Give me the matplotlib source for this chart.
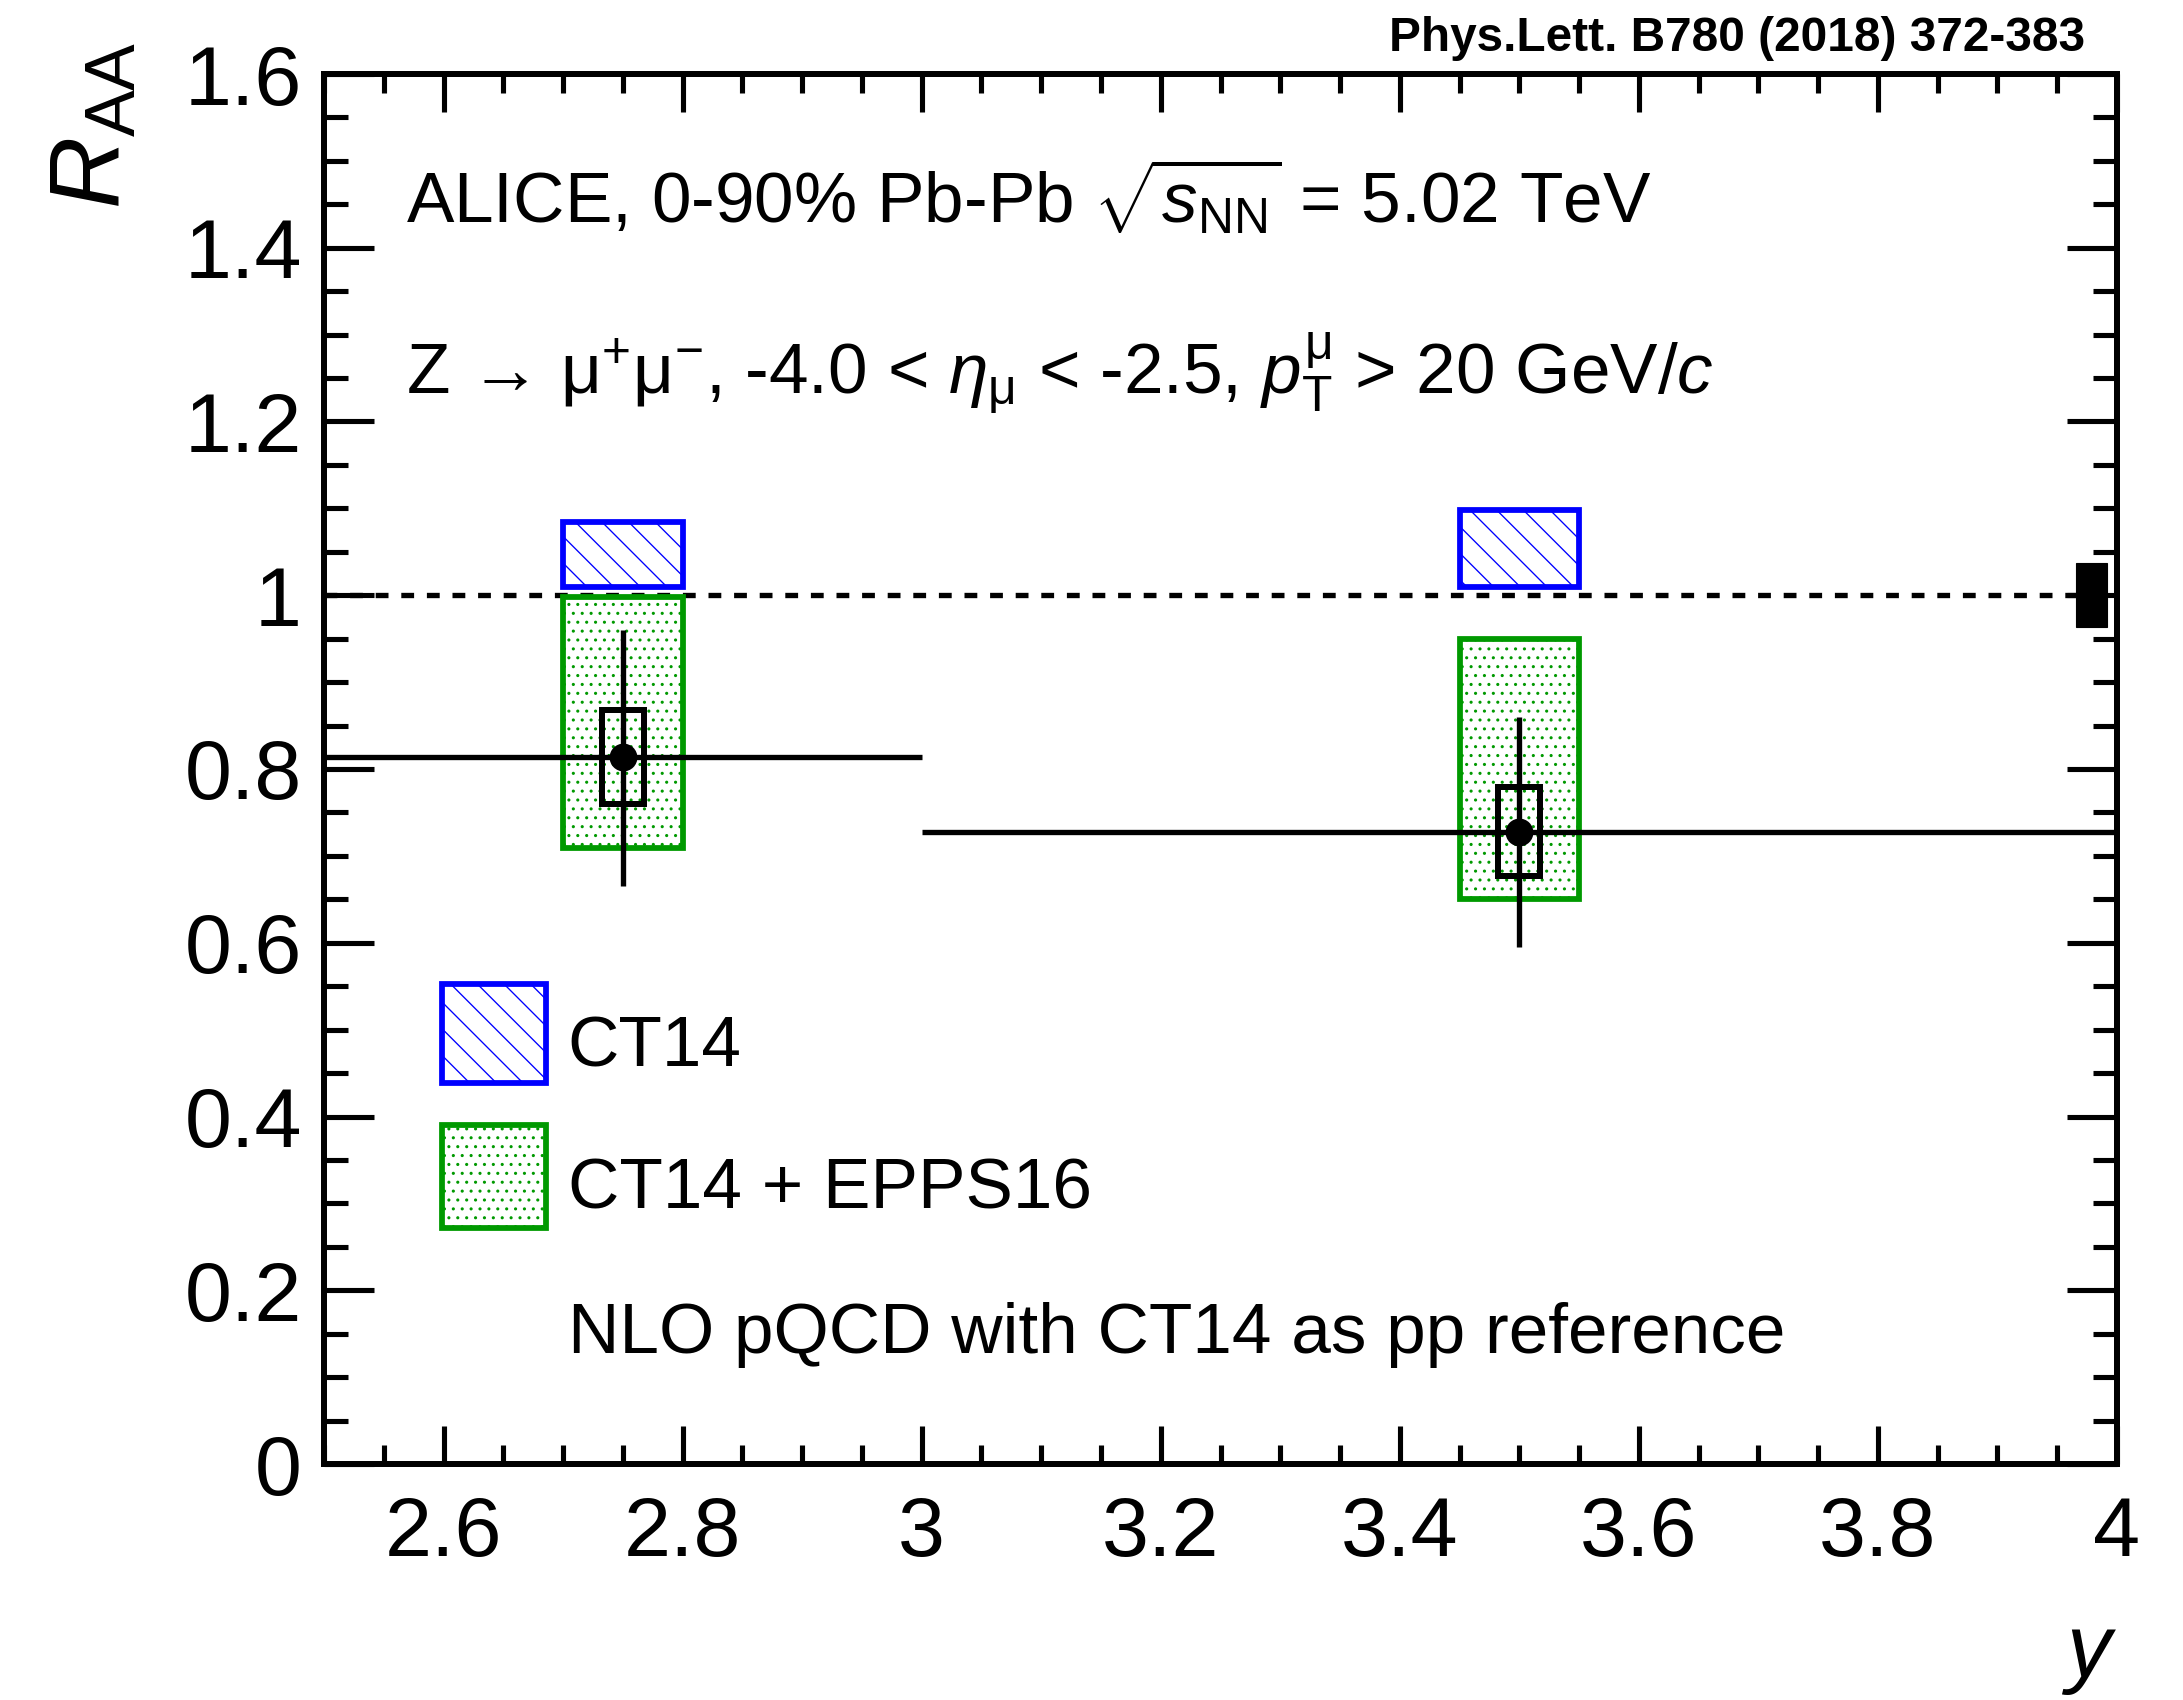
import numpy as np
import matplotlib
matplotlib.use("Agg")
import matplotlib.pyplot as plt
from matplotlib.patches import Rectangle
from matplotlib.ticker import MultipleLocator, FormatStrFormatter

# --- data ---
y_edges = [2.5, 3.0, 4.0]
y_centres = [2.75, 3.5]
raa = [0.814, 0.728]
stat_up = [0.146, 0.132]
stat_dn = [0.149, 0.133]
sys_err = [0.054, 0.051]
sys_halfwidth = 0.0175

# model bands (x range, y range)
ct14_x = [(2.70, 2.80), (3.45, 3.55)]
ct14_lo = [1.009, 1.010]
ct14_hi = [1.084, 1.098]
epps_x = [(2.70, 2.80), (3.45, 3.55)]
epps_lo = [0.709, 0.650]
epps_hi = [0.998, 0.950]

global_unc = 0.037
global_x = (3.966, 3.992)

BLUE = "#0000ff"
GREEN = "#009900"

plt.rcParams["font.family"] = ["Liberation Sans", "DejaVu Sans"]
plt.rcParams["mathtext.fontset"] = "custom"
plt.rcParams["mathtext.rm"] = "Liberation Sans"
plt.rcParams["mathtext.it"] = "Liberation Sans:italic"
plt.rcParams["mathtext.bf"] = "Liberation Sans:bold"
plt.rcParams["hatch.linewidth"] = 0.6

DPI = 160
fig = plt.figure(figsize=(2183 / DPI, 1700 / DPI), dpi=DPI)
ax = fig.add_axes([324 / 2183, 1 - 1464 / 1700, 1793 / 2183, 1390 / 1700])

# CT14 + EPPS16 (dotted green)
for (x0, x1), lo, hi in zip(epps_x, epps_lo, epps_hi):
    ax.add_patch(Rectangle((x0, lo), x1 - x0, hi - lo, facecolor="white",
                           edgecolor=GREEN, hatch="...", lw=2.6, zorder=2))

# CT14 (hatched blue)
for (x0, x1), lo, hi in zip(ct14_x, ct14_lo, ct14_hi):
    ax.add_patch(Rectangle((x0, lo), x1 - x0, hi - lo, facecolor="white",
                           edgecolor=BLUE, hatch="\\\\", lw=2.6, zorder=2))

# unity line
ax.axhline(1.0, color="black", lw=2.4, ls=(0, (2.4, 2.4)), zorder=1)

# bin width lines
ax.hlines(raa, y_edges[:-1], y_edges[1:], color="black", lw=2.4, zorder=4)

# systematic boxes
for xc, v, s in zip(y_centres, raa, sys_err):
    ax.add_patch(Rectangle((xc - sys_halfwidth, v - s), 2 * sys_halfwidth, 2 * s,
                           fill=False, edgecolor="black", lw=2.7, zorder=4))

# statistical errors + points
ax.errorbar(y_centres, raa, yerr=[stat_dn, stat_up], fmt="o", color="black",
            ms=11.5, elinewidth=2.4, capsize=0, zorder=5)

# global uncertainty
ax.add_patch(Rectangle((global_x[0], 1 - global_unc), global_x[1] - global_x[0],
                       2 * global_unc, facecolor="black", edgecolor="black",
                       lw=0.5, zorder=5))

ax.set_xlim(2.5, 4.0)
ax.set_ylim(0, 1.6)

ax.xaxis.set_major_locator(MultipleLocator(0.2))
ax.xaxis.set_minor_locator(MultipleLocator(0.05))
ax.yaxis.set_major_locator(MultipleLocator(0.2))
ax.yaxis.set_minor_locator(MultipleLocator(0.05))
ax.xaxis.set_major_formatter(FormatStrFormatter("%g"))
ax.yaxis.set_major_formatter(FormatStrFormatter("%g"))

ax.tick_params(which="both", direction="in", top=True, right=True, width=2.3,
               labelsize=38)
ax.tick_params(axis="x", which="major", length=17, pad=14)
ax.tick_params(axis="x", which="minor", length=8.5)
ax.tick_params(axis="y", which="major", length=22.5, pad=10)
ax.tick_params(axis="y", which="minor", length=11)
for sp in ax.spines.values():
    sp.set_linewidth(2.7)

ax.set_ylabel(r"$R_{\mathrm{AA}}$", fontsize=45, loc="top")
ax.yaxis.set_label_coords(-0.102, 1.023)
ax.set_xlabel(r"$y$", fontsize=40, loc="right")
ax.xaxis.set_label_coords(1.0, -0.107)

# annotations
tfs = 32
ax.text(0.046, 0.893, r"ALICE, 0-90% Pb-Pb $\sqrt{s_{\mathrm{NN}}}$ = 5.02 TeV",
        transform=ax.transAxes, fontsize=tfs, va="baseline")
ax.text(0.046, 0.771,
        "Z \u2192 " r"$\mathrm{\mu^{+}\mu^{-}}$, -4.0 < $\eta_{\mathrm{\mu}}$ < -2.5, "
        r"$p_{\mathrm{T}}^{\mathrm{\mu}}$ > 20 GeV/$c$",
        transform=ax.transAxes, fontsize=tfs, va="baseline")

# legend drawn by hand
ax.add_patch(Rectangle((0.066, 0.274), 0.058, 0.071, transform=ax.transAxes,
                       facecolor="white", edgecolor=BLUE, hatch="\\\\", lw=2.6))
ax.add_patch(Rectangle((0.066, 0.170), 0.058, 0.074, transform=ax.transAxes,
                       facecolor="white", edgecolor=GREEN, hatch="...", lw=2.6))
ax.text(0.136, 0.286, "CT14", transform=ax.transAxes, fontsize=tfs, va="baseline")
ax.text(0.136, 0.184, "CT14 + EPPS16", transform=ax.transAxes, fontsize=tfs,
        va="baseline")
ax.text(0.136, 0.080, "NLO pQCD with CT14 as pp reference", transform=ax.transAxes,
        fontsize=tfs, va="baseline")

fig.text(2085 / 2183, 1 - 51 / 1700, "Phys.Lett. B780 (2018) 372-383",
         fontsize=21.5, fontweight="bold", ha="right", va="baseline")

fig.savefig("out.png", dpi=DPI)
